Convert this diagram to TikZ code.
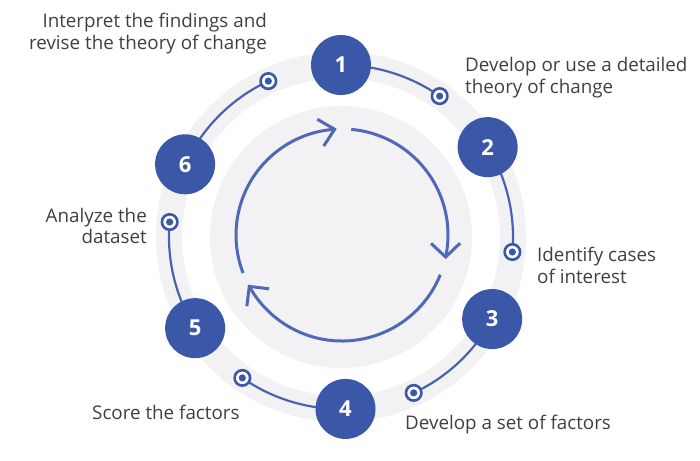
\documentclass[tikz,border=0pt]{standalone}
\usepackage{fontspec}
\setmainfont{Open Sans}
\usetikzlibrary{backgrounds}
\definecolor{nodeblue}{HTML}{3A58A7}
\definecolor{lineblue}{HTML}{4A63B0}
\definecolor{cycblue}{HTML}{5068B6}
\definecolor{ringgray}{HTML}{F2F2F4}
\definecolor{txt}{HTML}{404040}
\begin{document}
\begin{tikzpicture}[x=1pt,y=1pt,
  stepnode/.style={circle, fill=nodeblue, minimum size=60pt, inner sep=0pt, text=white, font=\fontsize{22}{22}\selectfont\bfseries},
  marker/.style={circle, draw=nodeblue, line width=2.6pt, fill=white, minimum size=15.5pt, inner sep=0pt},
  link/.style={draw=lineblue, line width=2.2pt},
  cyc/.style={draw=cycblue, line width=3pt},
  chev/.style={draw=cycblue, line width=3pt, line join=miter},
  lbl/.style={text=txt, font=\fontsize{18.8}{21.5}\selectfont, inner sep=0pt}]
\useasboundingbox (0,0) rectangle (700,460);
\coordinate (C) at (341,223);
\coordinate (D) at (342,225);
% step nodes
\node[stepnode] (n1) at ([shift={(90:172)}]C) {1};
\node[stepnode] (n2) at ([shift={(31.5:172)}]C) {2};
\node[stepnode] (n3) at ([shift={(-28.5:172)}]C) {3};
\node[stepnode] (n4) at ([shift={(-88.5:172)}]C) {4};
\node[stepnode] (n5) at ([shift={(212:172)}]C) {5};
\node[stepnode] (n6) at ([shift={(155:172)}]C) {6};
% markers
\node[marker] (m1) at ([shift={(55:172)}]C) {};
\node[marker] (m2) at ([shift={(-5:172)}]C) {};
\node[marker] (m3) at ([shift={(-65:172)}]C) {};
\node[marker] (m4) at ([shift={(-125:172)}]C) {};
\node[marker] (m5) at ([shift={(175:172)}]C) {};
\node[marker] (m6) at ([shift={(115:172)}]C) {};
\foreach \m in {m1,m2,m3,m4,m5,m6}{
  \fill[nodeblue] (\m) circle[radius=3.6];
}
\begin{pgfonlayer}{background}
\fill[white] (0,0) rectangle (700,460);
\draw[ringgray, line width=26pt] (C) circle[radius=172];
\fill[ringgray] (C) circle[radius=131];
\path[link] (n1.center) arc[start angle=90, end angle=55, radius=172];
\path[link] (n2.center) arc[start angle=31.5, end angle=-5, radius=172];
\path[link] (n3.center) arc[start angle=-28.5, end angle=-65, radius=172];
\path[link] (n4.center) arc[start angle=-88.5, end angle=-125, radius=172];
\path[link] (n5.center) arc[start angle=212, end angle=175, radius=172];
\path[link] (n6.center) arc[start angle=155, end angle=115, radius=172];
\end{pgfonlayer}
% inner cycle arrows
\coordinate (s1) at ([shift={(201:106)}]D);
\coordinate (a1) at ([shift={(94:106)}]D);
\coordinate (s2) at ([shift={(85:106)}]D);
\coordinate (a2) at ([shift={(-12:106)}]D);
\coordinate (s3) at ([shift={(-22:106)}]D);
\coordinate (a3) at ([shift={(-151:106)}]D);
\draw[cyc] (s1) arc[start angle=201, end angle=94, radius=106];
\draw[cyc] (s2) arc[start angle=85, end angle=-12, radius=106];
\draw[cyc] (s3) arc[start angle=-22, end angle=-151, radius=106];
\draw[chev] (a1) +(150:20) -- (a1) -- +(237:20);
\draw[chev] (a2) +(44:20) -- (a2) -- +(137:20);
\draw[chev] (a3) +(-97:20) -- (a3) -- +(-7:20);
% labels
\node[lbl, anchor=east, align=right] (t6) at (267,426.5) {Interpret the findings and\\revise the theory of change};
\node[lbl, anchor=west, align=left] (t1) at (465,382.5) {Develop or use a detailed\\theory of change};
\node[lbl, anchor=west, align=left] (t2) at (537,194.5) {Identify cases\\of interest};
\node[lbl, anchor=east, align=right] (t5) at (147,234) {Analyze the\\dataset};
\node[lbl, anchor=west] (t4) at (92,48) {Score the factors};
\node[lbl, anchor=west] (t3) at (405,35) {Develop a set of factors};
\end{tikzpicture}
\end{document}
